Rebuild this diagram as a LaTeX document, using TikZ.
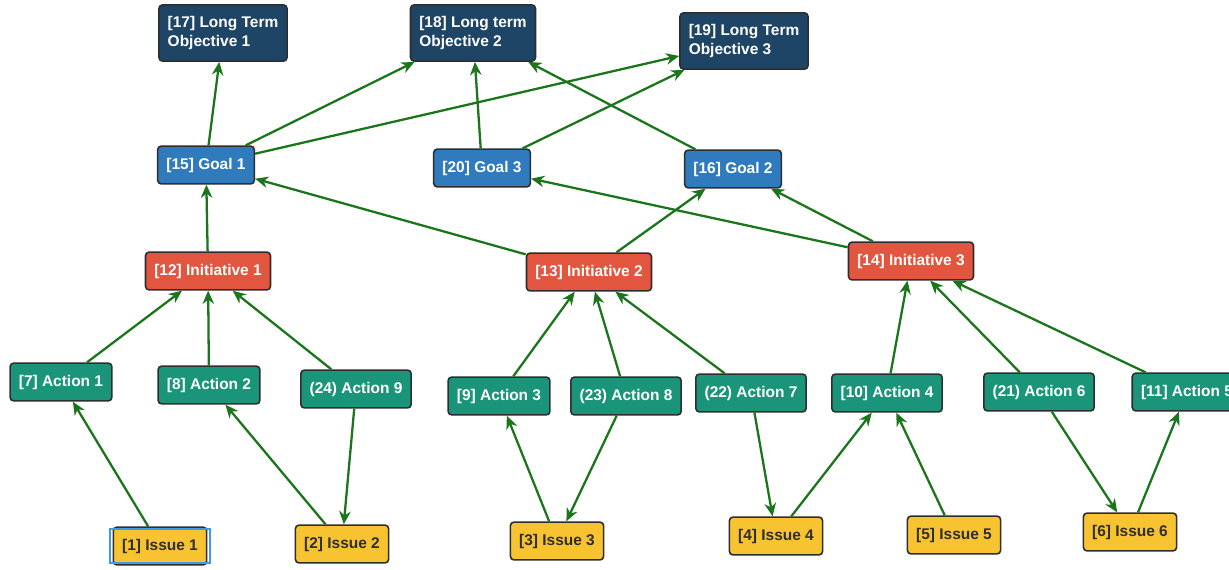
\documentclass[tikz,border=0pt]{standalone}
\usepackage{fontspec}
\setmainfont{Liberation Sans}
\usetikzlibrary{arrows.meta}

\definecolor{ltocol}{HTML}{1F4566}
\definecolor{goalcol}{HTML}{2F7BBE}
\definecolor{initcol}{HTML}{E2553F}
\definecolor{actcol}{HTML}{1A957A}
\definecolor{issuecol}{HTML}{F8C331}
\definecolor{edgecol}{HTML}{1B751B}
\definecolor{rimcol}{HTML}{2E2E2E}
\definecolor{selcol}{HTML}{3C9BEA}

\tikzset{
  box/.style={draw=rimcol, line width=0.9pt, rounded corners=2pt,
    inner xsep=5pt, inner ysep=2pt, minimum height=21.5pt,
    font=\fontsize{8.8}{10.5}\selectfont\bfseries, text=white},
  lto/.style={box, fill=ltocol, align=left, minimum height=32pt},
  goal/.style={box, fill=goalcol},
  initv/.style={box, fill=initcol},
  action/.style={box, fill=actcol},
  issue/.style={box, fill=issuecol, text=rimcol},
  link/.style={draw=edgecol, line width=1.3pt, -{Stealth[length=7.5pt,width=6.5pt]}}
}

\begin{document}
\begin{tikzpicture}[x=0.02cm, y=-0.02cm]
\path[use as bounding box, fill=white] (0,0) rectangle (1229,569);
% Long term objectives
\node[lto] (l17) at (223,33) {[17] Long Term\\Objective 1};
\node[lto] (l18) at (473,33) {[18] Long term\\Objective 2};
\node[lto] (l19) at (744,41) {[19] Long Term\\Objective 3};
% Goals
\node[goal] (g15) at (206,165) {[15] Goal 1};
\node[goal] (g20) at (482,168) {[20] Goal 3};
\node[goal] (g16) at (733,169) {[16] Goal 2};
% Initiatives
\node[initv] (i12) at (208,271) {[12] Initiative 1};
\node[initv] (i13) at (589,272) {[13] Initiative 2};
\node[initv] (i14) at (911,261) {[14] Initiative 3};
% Actions
\node[action] (a7) at (61,382) {[7] Action 1};
\node[action] (a8) at (209,385) {[8] Action 2};
\node[action] (a24) at (356,389) {(24) Action 9};
\node[action] (a9) at (499,396) {[9] Action 3};
\node[action] (a23) at (626,396) {(23) Action 8};
\node[action] (a22) at (751,393) {(22) Action 7};
\node[action] (a10) at (887,393) {[10] Action 4};
\node[action] (a21) at (1039,392) {(21) Action 6};
\node[action] (a11) at (1187,392) {[11] Action 5};
% Issues
\node[issue] (s1) at (160,546) {[1] Issue 1};
\node[issue] (s2) at (342,544) {[2] Issue 2};
\node[issue] (s3) at (557,541) {[3] Issue 3};
\node[issue] (s4) at (776,536) {[4] Issue 4};
\node[issue] (s5) at (954,535) {[5] Issue 5};
\node[issue] (s6) at (1130,532) {[6] Issue 6};
% selection frame round Issue 1
\draw[selcol, line width=1.1pt] ([shift={(-3,-3)}]s1.south west) rectangle ([shift={(3,3)}]s1.north east);
% Goals to objectives
\draw[link] (g15) -- (l17);
\draw[link] (g15) -- (l18);
\draw[link] (g15) -- (l19);
\draw[link] (g20) -- (l18);
\draw[link] (g20) -- (l19);
\draw[link] (g16) -- (l18);
% Initiatives to goals
\draw[link] (i12) -- (g15);
\draw[link] (i13) -- (g15);
\draw[link] (i13) -- (g16);
\draw[link] (i14) -- (g20);
\draw[link] (i14) -- (g16);
% Actions to initiatives
\draw[link] (a7) -- (i12);
\draw[link] (a8) -- (i12);
\draw[link] (a24) -- (i12);
\draw[link] (a9) -- (i13);
\draw[link] (a23) -- (i13);
\draw[link] (a22) -- (i13);
\draw[link] (a10) -- (i14);
\draw[link] (a21) -- (i14);
\draw[link] (a11) -- (i14);
% Issues and actions
\draw[link] (s1) -- (a7);
\draw[link] (s2) -- (a8);
\draw[link] (a24) -- (s2);
\draw[link] (s3) -- (a9);
\draw[link] (a23) -- (s3);
\draw[link] (a22) -- (s4);
\draw[link] (s4) -- (a10);
\draw[link] (s5) -- (a10);
\draw[link] (a21) -- (s6);
\draw[link] (s6) -- (a11);
\end{tikzpicture}
\end{document}
